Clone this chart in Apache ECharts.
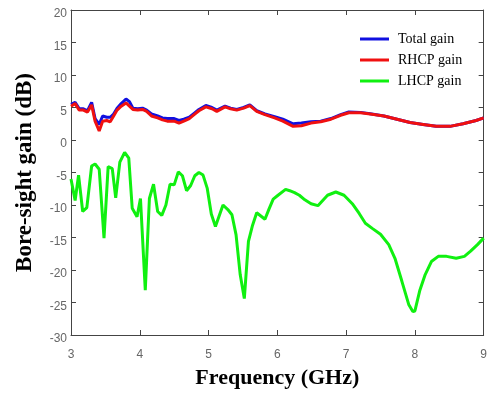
<!DOCTYPE html>
<html>
<head>
<meta charset="utf-8">
<script src="https://cdn.jsdelivr.net/npm/echarts@6/dist/echarts.min.js"></script>
<style>
html,body{margin:0;padding:0;background:#fff;}
#chart{width:490px;height:394px;}
</style>
</head>
<body>
<div id="chart"></div>
<script>
// Frequency samples (GHz) for total / RHCP gain
var freqCo = [3.00,3.06,3.12,3.18,3.24,3.30,3.35,3.41,3.46,3.52,3.57,3.62,3.67,3.73,3.80,3.85,3.90,3.97,4.04,4.10,4.17,4.26,4.33,4.40,4.50,4.57,4.64,4.72,4.79,4.86,4.96,5.05,5.12,5.24,5.32,5.41,5.51,5.60,5.70,5.82,5.96,6.08,6.23,6.35,6.49,6.63,6.78,6.92,7.04,7.21,7.35,7.55,7.74,7.93,8.12,8.31,8.51,8.70,8.89,9.00];
var totalGain = [5.5,5.8,4.8,4.8,4.5,5.8,3.3,2.4,3.7,3.5,3.5,4.0,4.9,5.6,6.3,5.9,4.9,4.8,4.9,4.6,4.0,3.7,3.4,3.3,3.3,3.0,3.2,3.5,4.1,4.7,5.3,5.0,4.6,5.2,4.9,4.7,5.0,5.4,4.5,4.0,3.6,3.2,2.5,2.6,2.8,2.9,3.3,3.9,4.3,4.25,4.05,3.7,3.2,2.7,2.4,2.1,2.1,2.5,3.0,3.4];
var rhcpGain = [5.2,5.6,4.6,4.6,4.3,5.4,2.9,1.4,2.9,3.0,2.8,3.7,4.6,5.2,5.7,5.2,4.7,4.6,4.7,4.4,3.7,3.4,3.1,2.9,2.9,2.6,2.9,3.3,3.9,4.5,5.1,4.8,4.4,5.1,4.8,4.6,4.9,5.3,4.4,3.9,3.4,2.9,2.1,2.2,2.6,2.8,3.2,3.8,4.2,4.2,4.0,3.7,3.2,2.7,2.4,2.1,2.1,2.5,3.0,3.4];
// Frequency samples (GHz) for LHCP gain
var freqCross = [3.00,3.06,3.11,3.17,3.23,3.30,3.35,3.41,3.48,3.54,3.60,3.65,3.71,3.78,3.84,3.89,3.96,4.01,4.08,4.14,4.20,4.26,4.32,4.38,4.44,4.50,4.56,4.62,4.68,4.74,4.80,4.86,4.92,4.98,5.04,5.10,5.15,5.21,5.28,5.34,5.40,5.46,5.52,5.58,5.64,5.70,5.76,5.82,5.88,5.94,6.01,6.12,6.18,6.25,6.32,6.40,6.49,6.59,6.66,6.73,6.85,6.97,7.09,7.19,7.28,7.38,7.50,7.62,7.71,7.81,7.91,7.97,8.00,8.07,8.15,8.24,8.34,8.46,8.60,8.72,8.81,8.91,9.00];
var lhcpGain = [-6.0,-9.3,-5.4,-11.0,-10.4,-4.0,-3.7,-4.5,-15.1,-4.1,-4.4,-8.9,-3.4,-1.9,-2.8,-10.5,-11.8,-9.0,-23.1,-9.0,-6.8,-11.0,-11.6,-10.0,-6.8,-6.9,-4.9,-5.5,-7.8,-7.0,-5.5,-5.0,-5.4,-7.4,-11.4,-13.3,-11.8,-10.0,-10.7,-11.5,-14.6,-20.7,-24.4,-15.6,-13.1,-11.2,-11.7,-12.2,-10.6,-9.1,-8.5,-7.6,-7.8,-8.1,-8.5,-9.2,-9.8,-10.1,-9.3,-8.5,-8.0,-8.5,-9.8,-11.3,-12.8,-13.6,-14.5,-16.1,-18.2,-21.7,-25.3,-26.4,-26.3,-23.2,-20.7,-18.7,-17.9,-17.9,-18.2,-17.9,-17.1,-16.1,-15.1];
var seriesNames = ['Total gain','RHCP gain','LHCP gain'];
var seriesColors = ['#1010e0','#f01010','#10f010'];
var xTitle = 'Frequency (GHz)';
var yTitle = 'Bore-sight gain (dB)';

function pairs(xs, ys){ return xs.map(function(x,i){ return [x, ys[i]]; }); }

var chart = echarts.init(document.getElementById('chart'), null, {renderer:'canvas'});
var axisColor = '#444';
var labelStyle = {color:'#666', fontFamily:'Liberation Sans, DejaVu Sans, sans-serif', fontSize:12};
var option = {
  backgroundColor:'#fff',
  animation:false,
  grid:{left:71, top:10, width:416, height:328, containLabel:false},
  legend:{
    left:355, top:27, orient:'vertical', itemGap:7, itemWidth:29, itemHeight:3, icon:'rect',
    data:seriesNames,
    textStyle:{fontFamily:'Liberation Serif, Times New Roman, serif', fontSize:14, color:'#000', padding:[0,0,0,4]}
  },
  xAxis:[{
    type:'value', min:3, max:9, interval:1,
    name:xTitle, nameLocation:'middle', nameGap:32,
    nameTextStyle:{fontFamily:'Liberation Serif, Times New Roman, serif', fontWeight:'bold', fontSize:22, color:'#000'},
    axisLine:{show:true, onZero:false, lineStyle:{color:axisColor, width:1}},
    axisTick:{show:true, inside:true, length:5, lineStyle:{color:axisColor}},
    axisLabel:Object.assign({margin:14}, labelStyle),
    splitLine:{show:false}
  },{
    type:'value', min:3, max:9, interval:1, position:'top',
    axisLine:{show:true, onZero:false, lineStyle:{color:axisColor, width:1}},
    axisTick:{show:true, inside:true, length:5, lineStyle:{color:axisColor}},
    axisLabel:{show:false}, splitLine:{show:false}
  }],
  yAxis:[{
    type:'value', min:-30, max:20, interval:5,
    name:yTitle, nameLocation:'middle', nameGap:34, nameRotate:90,
    nameTextStyle:{fontFamily:'Liberation Serif, Times New Roman, serif', fontWeight:'bold', fontSize:23, color:'#000'},
    axisLine:{show:true, onZero:false, lineStyle:{color:axisColor, width:1}},
    axisTick:{show:true, inside:true, length:5, lineStyle:{color:axisColor}},
    axisLabel:Object.assign({margin:4, verticalAlign:'top', lineHeight:8}, labelStyle),
    splitLine:{show:false}
  },{
    type:'value', min:-30, max:20, interval:5, position:'right',
    axisLine:{show:true, onZero:false, lineStyle:{color:axisColor, width:1}},
    axisTick:{show:true, inside:true, length:5, lineStyle:{color:axisColor}},
    axisLabel:{show:false}, splitLine:{show:false}
  }],
  series:[
    {name:seriesNames[0], type:'line', data:pairs(freqCo,totalGain), showSymbol:false, symbol:'none', lineStyle:{width:3, color:seriesColors[0]}, itemStyle:{color:seriesColors[0]}, z:2},
    {name:seriesNames[1], type:'line', data:pairs(freqCo,rhcpGain), showSymbol:false, symbol:'none', lineStyle:{width:3, color:seriesColors[1]}, itemStyle:{color:seriesColors[1]}, z:3},
    {name:seriesNames[2], type:'line', data:pairs(freqCross,lhcpGain), showSymbol:false, symbol:'none', lineStyle:{width:3, color:seriesColors[2]}, itemStyle:{color:seriesColors[2]}, z:3}
  ]
};
chart.setOption(option);
</script>
</body>
</html>
